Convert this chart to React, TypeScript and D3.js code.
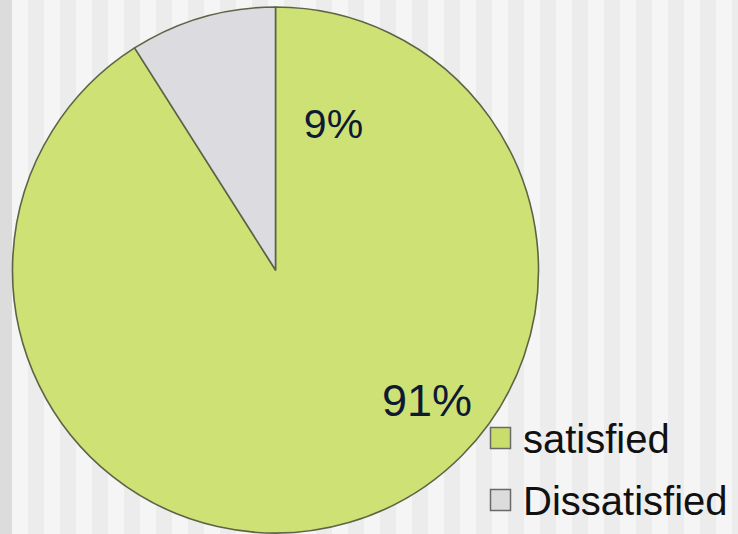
import React from "react";
import * as d3 from "d3";

const categories = ["satisfied", "Dissatisfied"];
const values = [91, 9];
const labels = ["91%", "9%"];
const colors = ["#cde174", "#dbdbe0"];
const legendColors = ["#c9dd6c", "#dcdcdc"];

const W = 738;
const H = 534;

export default function App() {
  const cx = 275.5;
  const cy = 270;
  const r = 263;
  const pie = d3.pie<number>().sort(null).startAngle(0).endAngle(2 * Math.PI);
  const arcs = pie(values);
  const arc = d3.arc<d3.PieArcDatum<number>>().innerRadius(0).outerRadius(r);
  const stripes = d3.range(12, W, 32);
  const labelPos = [
    { x: 427, y: 416, size: 45 },
    { x: 333.5, y: 138, size: 41 },
  ];
  return (
    <svg
      width={W}
      height={H}
      style={{ position: "absolute", left: 0, top: 0 }}
      fontFamily="'Liberation Sans', Arial, sans-serif"
    >
      <rect x={0} y={0} width={W} height={H} fill="#ececec" />
      <rect x={0} y={0} width={12} height={H} fill="#dcdcdc" />
      {stripes.map((x) => (
        <rect key={x} x={x} y={0} width={16} height={H} fill="#f5f5f5" />
      ))}
      <g transform={`translate(${cx},${cy})`}>
        {arcs.map((a, i) => (
          <path
            key={i}
            d={arc(a) || ""}
            fill={colors[i]}
            stroke="#5d6446"
            strokeWidth={1.6}
            strokeLinejoin="round"
          />
        ))}
      </g>
      {labels.map((t, i) => (
        <text
          key={t}
          x={labelPos[i].x}
          y={labelPos[i].y}
          textAnchor="middle"
          fontSize={labelPos[i].size}
          fill="#0e1a33"
        >
          {t}
        </text>
      ))}
      {categories.map((c, i) => (
        <g key={c} transform={`translate(490, ${427 + i * 62})`}>
          <rect
            x={0.5}
            y={0.5}
            width={20}
            height={21}
            fill={legendColors[i]}
            stroke="#6a6a6a"
            strokeWidth={1.5}
          />
          <text x={33} y={26} fontSize={40} fill="#111">
            {c}
          </text>
        </g>
      ))}
    </svg>
  );
}
